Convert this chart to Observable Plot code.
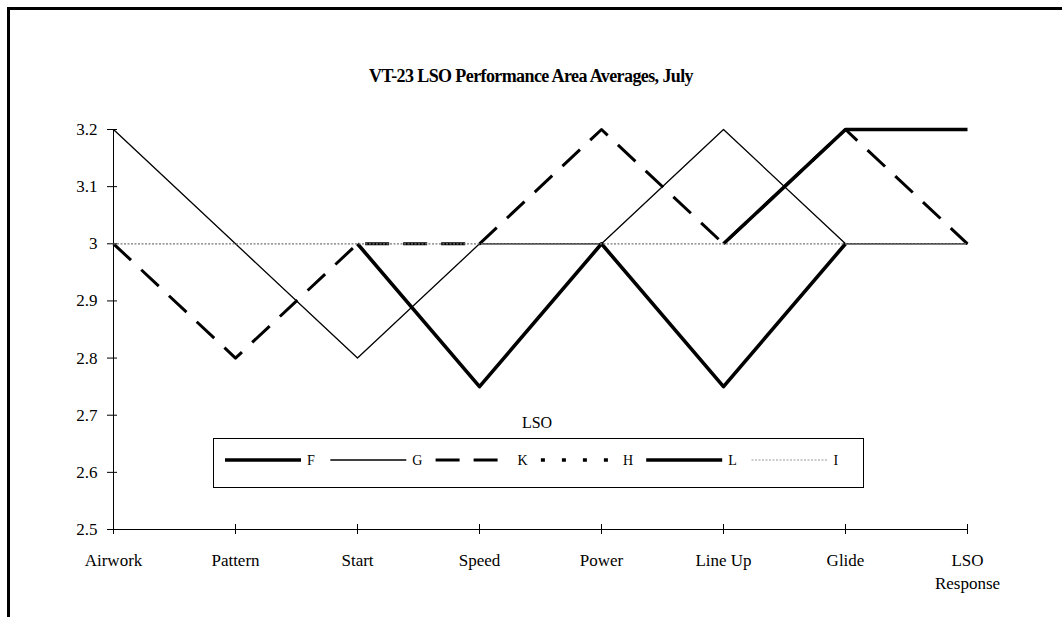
<!DOCTYPE html>
<html>
<head>
<meta charset="utf-8">
<script src="https://cdn.jsdelivr.net/npm/d3@7"></script>
<script src="https://cdn.jsdelivr.net/npm/@observablehq/plot@0.6"></script>
<style>
  html, body { margin: 0; padding: 0; background: #fff; }
  #page { position: relative; width: 1062px; height: 617px; overflow: hidden;
          font-family: "Liberation Serif", "Times New Roman", serif; color: #000; }
  #frame { position: absolute; left: 7px; top: 7px; width: 1100px; height: 700px;
           border-left: 3px solid #000; border-top: 3px solid #000; }
  #chart { position: absolute; left: 0; top: 0; }
  #title { position: absolute; left: 0; width: 1062px; top: 66px; text-align: center;
           font-weight: bold; font-size: 18px; line-height: 20px; letter-spacing: -0.6px; }
  #legend { position: absolute; left: 0; top: 0; }
</style>
</head>
<body>
<div id="page">
  <div id="frame"></div>
  <div id="chart"></div>
  <div id="title">VT-23 LSO Performance Area Averages, July</div>
  <svg id="legend" width="1062" height="617"></svg>
</div>
<script>
// ---- data ----
const categories = ["Airwork", "Pattern", "Start", "Speed", "Power", "Line Up", "Glide", "LSO Response"];
const seriesNames = ["F", "G", "K", "H", "L", "I"];
const valuesF = [null, null, null, null, null, 3.0, 3.2, 3.2];
const valuesG = [3.2, 3.0, 2.8, 3.0, 3.0, 3.2, 3.0, 3.0];
const valuesK = [3.0, 2.8, 3.0, 3.0, 3.2, 3.0, 3.2, 3.0];
const valuesH = [null, null, null, null, null, null, null, null];
const valuesL = [null, null, 3.0, 2.75, 3.0, 2.75, 3.0, null];
const valuesI = [3.0, 3.0, 3.0, 3.0, 3.0, 3.0, 3.0, 3.0];
const yTicks = [2.5, 2.6, 2.7, 2.8, 2.9, 3.0, 3.1, 3.2];
const yTickLabels = ["2.5", "2.6", "2.7", "2.8", "2.9", "3", "3.1", "3.2"];
const legendTitle = "LSO";

// ---- styles per series ----
const styles = {
  F: {stroke: "#000", strokeWidth: 3.6, strokeDasharray: null},
  G: {stroke: "#000", strokeWidth: 1.3, strokeDasharray: null},
  K: {stroke: "#000", strokeWidth: 3, strokeDasharray: "24,14"},
  H: {stroke: "#000", strokeWidth: 3.5, strokeDasharray: "4,17"},
  L: {stroke: "#000", strokeWidth: 3.6, strokeDasharray: null},
  I: {stroke: "#777", strokeWidth: 1.3, strokeDasharray: "2,1.5"}
};
const seriesValues = {F: valuesF, G: valuesG, K: valuesK, H: valuesH, L: valuesL, I: valuesI};

const rows = [];
for (const s of seriesNames) {
  categories.forEach((c, i) => rows.push({series: s, cat: c, value: seriesValues[s][i]}));
}

const lineMarks = seriesNames.map(s => Plot.line(rows.filter(r => r.series === s), {
  x: "cat", y: "value",
  stroke: styles[s].stroke,
  strokeWidth: styles[s].strokeWidth,
  strokeDasharray: styles[s].strokeDasharray,
  strokeLinejoin: "round",
  strokeLinecap: "butt"
}));

const plot = Plot.plot({
  width: 1062,
  height: 617,
  marginLeft: 112,
  marginRight: 94,
  marginTop: 129,
  marginBottom: 88,
  style: {fontFamily: "Liberation Serif, Times New Roman, serif", fontSize: "17px", color: "#000", background: "transparent"},
  x: {type: "point", domain: categories, padding: 0},
  y: {domain: [2.5, 3.2]},
  marks: [
    Plot.ruleX([categories[0]], {stroke: "#000", strokeWidth: 1}),
    Plot.ruleY([2.5], {stroke: "#000", strokeWidth: 1}),
    Plot.axisY({ticks: yTicks, tickSize: 10, dx: 5, tickFormat: () => "", label: null}),
    Plot.axisY({ticks: yTicks, tickSize: 0, tickPadding: 15, label: null, fontSize: 17,
      tickFormat: d => yTickLabels[yTicks.indexOf(d)]}),
    Plot.axisX({tickSize: 10, dy: -5, tickFormat: () => "", label: null}),
    Plot.axisX({tickSize: 0, tickPadding: 20, label: null, fontSize: 17, lineHeight: 1.35,
      tickFormat: d => d.replace("LSO Response", "LSO\nResponse")}),
    ...lineMarks
  ]
});
document.getElementById("chart").appendChild(plot);

// ---- legend ----
const lg = d3.select("#legend");
lg.append("text").attr("x", 537).attr("y", 428).attr("text-anchor", "middle")
  .attr("font-family", "Liberation Serif, Times New Roman, serif").attr("font-size", 16)
  .text(legendTitle);
lg.append("rect").attr("x", 213.5).attr("y", 438.5).attr("width", 650).attr("height", 49)
  .attr("fill", "#fff").attr("stroke", "#000").attr("stroke-width", 1);
seriesNames.forEach((s, i) => {
  const x0 = 225 + i * 105.3;
  const st = styles[s];
  lg.append("line").attr("x1", x0).attr("x2", x0 + 76).attr("y1", 460).attr("y2", 460)
    .attr("stroke", s === "I" ? "#bbb" : st.stroke).attr("stroke-width", st.strokeWidth)
    .attr("stroke-dasharray", st.strokeDasharray);
  lg.append("text").attr("x", x0 + 82).attr("y", 465)
    .attr("font-family", "Liberation Serif, Times New Roman, serif").attr("font-size", 14)
    .text(s);
});
</script>
</body>
</html>
